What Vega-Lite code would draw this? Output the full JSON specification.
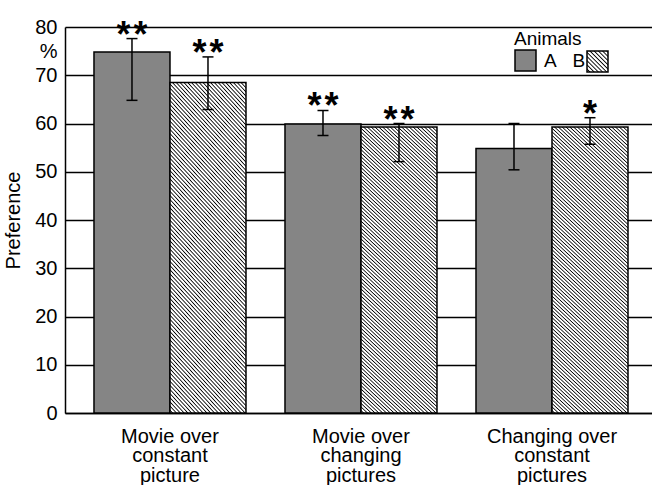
{
  "$schema": "https://vega.github.io/schema/vega-lite/v6.json",
  "width": 587,
  "height": 386,
  "autosize": {"type": "none"},
  "padding": {"left": 65, "top": 27, "right": 0, "bottom": 72},
  "background": "white",
  "config": {"view": {"stroke": null}, "font": "Liberation Sans"},
  "data": {
    "values": [
      {"condition": "Movie over constant picture", "animal": "A", "pref": 74.8, "lo": 64.8, "hi": 77.6, "sig": "*\u200a*"},
      {"condition": "Movie over constant picture", "animal": "B", "pref": 68.5, "lo": 62.9, "hi": 73.8, "sig": "*\u200a*"},
      {"condition": "Movie over changing pictures", "animal": "A", "pref": 59.9, "lo": 57.5, "hi": 62.7, "sig": "*\u200a*"},
      {"condition": "Movie over changing pictures", "animal": "B", "pref": 59.3, "lo": 52.1, "hi": 60.0, "sig": "*\u200a*"},
      {"condition": "Changing over constant pictures", "animal": "A", "pref": 54.8, "lo": 50.4, "hi": 60.0, "sig": ""},
      {"condition": "Changing over constant pictures", "animal": "B", "pref": 59.3, "lo": 55.7, "hi": 61.2, "sig": "*"}
    ]
  },
  "resolve": {"scale": {"shape": "independent"}, "legend": {"shape": "independent"}},
  "encoding": {
    "x": {
      "field": "condition",
      "type": "nominal",
      "sort": null,
      "scale": {"paddingInner": 0.2042, "paddingOuter": 0.1387, "align": 0.547},
      "axis": {
        "title": null,
        "domainColor": "black",
        "domainWidth": 1.5,
        "ticks": false,
        "tickSize": 0,
        "labelAngle": 0,
        "labelPadding": 13,
        "labelBaseline": "top",
        "labelFont": "Liberation Sans",
        "labelFontSize": 20,
        "labelLineHeight": 19.5,
        "labelColor": "black",
        "labelExpr": "datum.value === 'Movie over constant picture' ? ['Movie over', 'constant', 'picture'] : datum.value === 'Movie over changing pictures' ? ['Movie over', 'changing', 'pictures'] : ['Changing over', 'constant', 'pictures']"
      }
    },
    "xOffset": {"field": "animal", "type": "nominal", "scale": {"domain": ["A", "B"], "paddingInner": 0, "paddingOuter": 0}}
  },
  "layer": [
    {
      "mark": {"type": "bar", "stroke": "black", "strokeWidth": 1.5},
      "encoding": {
        "y": {
          "field": "pref",
          "type": "quantitative",
          "title": "Preference",
          "scale": {"domain": [0, 80], "nice": false},
          "axis": {
            "values": [0, 10, 20, 30, 40, 50, 60, 70, 75, 80],
            "labelExpr": "datum.value === 75 ? '%' : datum.label",
            "grid": true,
            "gridColor": "black",
            "gridWidth": 1.5,
            "gridOpacity": {"condition": {"test": "datum.value === 75", "value": 0}, "value": 1},
            "domainColor": "black",
            "domainWidth": 1.5,
            "ticks": false,
            "tickSize": 0,
            "labelPadding": 8,
            "labelFlush": false,
            "labelOverlap": false,
            "labelFont": "Liberation Sans",
            "labelFontSize": 20,
            "labelColor": "black",
            "titleFont": "Liberation Sans",
            "titleFontSize": 20,
            "titleFontWeight": "normal",
            "titleColor": "black",
            "titlePadding": 11
          }
        },
        "fill": {
          "condition": {
            "test": "datum.animal === 'B'",
            "value": {
              "gradient": "linear", "x1": 0, "y1": 1, "x2": 0.293, "y2": -0.176,
              "stops": [
                {"offset":0,"color":"#fff"},{"offset":0.004,"color":"#fff"},{"offset":0.007,"color":"#000"},
                {"offset":0.01,"color":"#fff"},{"offset":0.014,"color":"#fff"},{"offset":0.017,"color":"#000"},
                {"offset":0.02,"color":"#fff"},{"offset":0.024,"color":"#fff"},{"offset":0.027,"color":"#000"},
                {"offset":0.03,"color":"#fff"},{"offset":0.034,"color":"#fff"},{"offset":0.037,"color":"#000"},
                {"offset":0.04,"color":"#fff"},{"offset":0.044,"color":"#fff"},{"offset":0.047,"color":"#000"},
                {"offset":0.05,"color":"#fff"},{"offset":0.054,"color":"#fff"},{"offset":0.057,"color":"#000"},
                {"offset":0.06,"color":"#fff"},{"offset":0.064,"color":"#fff"},{"offset":0.067,"color":"#000"},
                {"offset":0.07,"color":"#fff"},{"offset":0.074,"color":"#fff"},{"offset":0.077,"color":"#000"},
                {"offset":0.08,"color":"#fff"},{"offset":0.084,"color":"#fff"},{"offset":0.087,"color":"#000"},
                {"offset":0.09,"color":"#fff"},{"offset":0.094,"color":"#fff"},{"offset":0.097,"color":"#000"},
                {"offset":0.1,"color":"#fff"},{"offset":0.104,"color":"#fff"},{"offset":0.107,"color":"#000"},
                {"offset":0.11,"color":"#fff"},{"offset":0.114,"color":"#fff"},{"offset":0.117,"color":"#000"},
                {"offset":0.12,"color":"#fff"},{"offset":0.124,"color":"#fff"},{"offset":0.127,"color":"#000"},
                {"offset":0.13,"color":"#fff"},{"offset":0.134,"color":"#fff"},{"offset":0.137,"color":"#000"},
                {"offset":0.14,"color":"#fff"},{"offset":0.144,"color":"#fff"},{"offset":0.147,"color":"#000"},
                {"offset":0.15,"color":"#fff"},{"offset":0.154,"color":"#fff"},{"offset":0.157,"color":"#000"},
                {"offset":0.16,"color":"#fff"},{"offset":0.164,"color":"#fff"},{"offset":0.167,"color":"#000"},
                {"offset":0.17,"color":"#fff"},{"offset":0.174,"color":"#fff"},{"offset":0.177,"color":"#000"},
                {"offset":0.18,"color":"#fff"},{"offset":0.184,"color":"#fff"},{"offset":0.187,"color":"#000"},
                {"offset":0.19,"color":"#fff"},{"offset":0.194,"color":"#fff"},{"offset":0.197,"color":"#000"},
                {"offset":0.2,"color":"#fff"},{"offset":0.204,"color":"#fff"},{"offset":0.207,"color":"#000"},
                {"offset":0.21,"color":"#fff"},{"offset":0.214,"color":"#fff"},{"offset":0.217,"color":"#000"},
                {"offset":0.22,"color":"#fff"},{"offset":0.224,"color":"#fff"},{"offset":0.227,"color":"#000"},
                {"offset":0.23,"color":"#fff"},{"offset":0.234,"color":"#fff"},{"offset":0.237,"color":"#000"},
                {"offset":0.24,"color":"#fff"},{"offset":0.244,"color":"#fff"},{"offset":0.247,"color":"#000"},
                {"offset":0.25,"color":"#fff"},{"offset":0.254,"color":"#fff"},{"offset":0.257,"color":"#000"},
                {"offset":0.26,"color":"#fff"},{"offset":0.264,"color":"#fff"},{"offset":0.267,"color":"#000"},
                {"offset":0.27,"color":"#fff"},{"offset":0.274,"color":"#fff"},{"offset":0.277,"color":"#000"},
                {"offset":0.28,"color":"#fff"},{"offset":0.284,"color":"#fff"},{"offset":0.287,"color":"#000"},
                {"offset":0.29,"color":"#fff"},{"offset":0.294,"color":"#fff"},{"offset":0.297,"color":"#000"},
                {"offset":0.3,"color":"#fff"},{"offset":0.304,"color":"#fff"},{"offset":0.307,"color":"#000"},
                {"offset":0.31,"color":"#fff"},{"offset":0.314,"color":"#fff"},{"offset":0.317,"color":"#000"},
                {"offset":0.32,"color":"#fff"},{"offset":0.324,"color":"#fff"},{"offset":0.327,"color":"#000"},
                {"offset":0.33,"color":"#fff"},{"offset":0.334,"color":"#fff"},{"offset":0.337,"color":"#000"},
                {"offset":0.34,"color":"#fff"},{"offset":0.344,"color":"#fff"},{"offset":0.347,"color":"#000"},
                {"offset":0.35,"color":"#fff"},{"offset":0.354,"color":"#fff"},{"offset":0.357,"color":"#000"},
                {"offset":0.36,"color":"#fff"},{"offset":0.364,"color":"#fff"},{"offset":0.367,"color":"#000"},
                {"offset":0.37,"color":"#fff"},{"offset":0.374,"color":"#fff"},{"offset":0.377,"color":"#000"},
                {"offset":0.38,"color":"#fff"},{"offset":0.384,"color":"#fff"},{"offset":0.387,"color":"#000"},
                {"offset":0.39,"color":"#fff"},{"offset":0.394,"color":"#fff"},{"offset":0.397,"color":"#000"},
                {"offset":0.4,"color":"#fff"},{"offset":0.404,"color":"#fff"},{"offset":0.407,"color":"#000"},
                {"offset":0.41,"color":"#fff"},{"offset":0.414,"color":"#fff"},{"offset":0.417,"color":"#000"},
                {"offset":0.42,"color":"#fff"},{"offset":0.424,"color":"#fff"},{"offset":0.427,"color":"#000"},
                {"offset":0.43,"color":"#fff"},{"offset":0.434,"color":"#fff"},{"offset":0.437,"color":"#000"},
                {"offset":0.44,"color":"#fff"},{"offset":0.444,"color":"#fff"},{"offset":0.447,"color":"#000"},
                {"offset":0.45,"color":"#fff"},{"offset":0.454,"color":"#fff"},{"offset":0.457,"color":"#000"},
                {"offset":0.46,"color":"#fff"},{"offset":0.464,"color":"#fff"},{"offset":0.467,"color":"#000"},
                {"offset":0.47,"color":"#fff"},{"offset":0.474,"color":"#fff"},{"offset":0.477,"color":"#000"},
                {"offset":0.48,"color":"#fff"},{"offset":0.484,"color":"#fff"},{"offset":0.487,"color":"#000"},
                {"offset":0.49,"color":"#fff"},{"offset":0.494,"color":"#fff"},{"offset":0.497,"color":"#000"},
                {"offset":0.5,"color":"#fff"},{"offset":0.504,"color":"#fff"},{"offset":0.507,"color":"#000"},
                {"offset":0.51,"color":"#fff"},{"offset":0.514,"color":"#fff"},{"offset":0.517,"color":"#000"},
                {"offset":0.52,"color":"#fff"},{"offset":0.524,"color":"#fff"},{"offset":0.527,"color":"#000"},
                {"offset":0.53,"color":"#fff"},{"offset":0.534,"color":"#fff"},{"offset":0.537,"color":"#000"},
                {"offset":0.54,"color":"#fff"},{"offset":0.544,"color":"#fff"},{"offset":0.547,"color":"#000"},
                {"offset":0.55,"color":"#fff"},{"offset":0.554,"color":"#fff"},{"offset":0.557,"color":"#000"},
                {"offset":0.56,"color":"#fff"},{"offset":0.564,"color":"#fff"},{"offset":0.567,"color":"#000"},
                {"offset":0.57,"color":"#fff"},{"offset":0.574,"color":"#fff"},{"offset":0.577,"color":"#000"},
                {"offset":0.58,"color":"#fff"},{"offset":0.584,"color":"#fff"},{"offset":0.587,"color":"#000"},
                {"offset":0.59,"color":"#fff"},{"offset":0.594,"color":"#fff"},{"offset":0.597,"color":"#000"},
                {"offset":0.6,"color":"#fff"},{"offset":0.604,"color":"#fff"},{"offset":0.607,"color":"#000"},
                {"offset":0.61,"color":"#fff"},{"offset":0.614,"color":"#fff"},{"offset":0.617,"color":"#000"},
                {"offset":0.62,"color":"#fff"},{"offset":0.624,"color":"#fff"},{"offset":0.627,"color":"#000"},
                {"offset":0.63,"color":"#fff"},{"offset":0.634,"color":"#fff"},{"offset":0.637,"color":"#000"},
                {"offset":0.64,"color":"#fff"},{"offset":0.644,"color":"#fff"},{"offset":0.647,"color":"#000"},
                {"offset":0.65,"color":"#fff"},{"offset":0.654,"color":"#fff"},{"offset":0.657,"color":"#000"},
                {"offset":0.66,"color":"#fff"},{"offset":0.664,"color":"#fff"},{"offset":0.667,"color":"#000"},
                {"offset":0.67,"color":"#fff"},{"offset":0.674,"color":"#fff"},{"offset":0.677,"color":"#000"},
                {"offset":0.68,"color":"#fff"},{"offset":0.684,"color":"#fff"},{"offset":0.687,"color":"#000"},
                {"offset":0.69,"color":"#fff"},{"offset":0.694,"color":"#fff"},{"offset":0.697,"color":"#000"},
                {"offset":0.7,"color":"#fff"},{"offset":0.704,"color":"#fff"},{"offset":0.707,"color":"#000"},
                {"offset":0.71,"color":"#fff"},{"offset":0.714,"color":"#fff"},{"offset":0.717,"color":"#000"},
                {"offset":0.72,"color":"#fff"},{"offset":0.724,"color":"#fff"},{"offset":0.727,"color":"#000"},
                {"offset":0.73,"color":"#fff"},{"offset":0.734,"color":"#fff"},{"offset":0.737,"color":"#000"},
                {"offset":0.74,"color":"#fff"},{"offset":0.744,"color":"#fff"},{"offset":0.747,"color":"#000"},
                {"offset":0.75,"color":"#fff"},{"offset":0.754,"color":"#fff"},{"offset":0.757,"color":"#000"},
                {"offset":0.76,"color":"#fff"},{"offset":0.764,"color":"#fff"},{"offset":0.767,"color":"#000"},
                {"offset":0.77,"color":"#fff"},{"offset":0.774,"color":"#fff"},{"offset":0.777,"color":"#000"},
                {"offset":0.78,"color":"#fff"},{"offset":0.784,"color":"#fff"},{"offset":0.787,"color":"#000"},
                {"offset":0.79,"color":"#fff"},{"offset":0.794,"color":"#fff"},{"offset":0.797,"color":"#000"},
                {"offset":0.8,"color":"#fff"},{"offset":0.804,"color":"#fff"},{"offset":0.807,"color":"#000"},
                {"offset":0.81,"color":"#fff"},{"offset":0.814,"color":"#fff"},{"offset":0.817,"color":"#000"},
                {"offset":0.82,"color":"#fff"},{"offset":0.824,"color":"#fff"},{"offset":0.827,"color":"#000"},
                {"offset":0.83,"color":"#fff"},{"offset":0.834,"color":"#fff"},{"offset":0.837,"color":"#000"},
                {"offset":0.84,"color":"#fff"},{"offset":0.844,"color":"#fff"},{"offset":0.847,"color":"#000"},
                {"offset":0.85,"color":"#fff"},{"offset":0.854,"color":"#fff"},{"offset":0.857,"color":"#000"},
                {"offset":0.86,"color":"#fff"},{"offset":0.864,"color":"#fff"},{"offset":0.867,"color":"#000"},
                {"offset":0.87,"color":"#fff"},{"offset":0.874,"color":"#fff"},{"offset":0.877,"color":"#000"},
                {"offset":0.88,"color":"#fff"},{"offset":0.884,"color":"#fff"},{"offset":0.887,"color":"#000"},
                {"offset":0.89,"color":"#fff"},{"offset":0.894,"color":"#fff"},{"offset":0.897,"color":"#000"},
                {"offset":0.9,"color":"#fff"},{"offset":0.904,"color":"#fff"},{"offset":0.907,"color":"#000"},
                {"offset":0.91,"color":"#fff"},{"offset":0.914,"color":"#fff"},{"offset":0.917,"color":"#000"},
                {"offset":0.92,"color":"#fff"},{"offset":0.924,"color":"#fff"},{"offset":0.927,"color":"#000"},
                {"offset":0.93,"color":"#fff"},{"offset":0.934,"color":"#fff"},{"offset":0.937,"color":"#000"},
                {"offset":0.94,"color":"#fff"},{"offset":0.944,"color":"#fff"},{"offset":0.947,"color":"#000"},
                {"offset":0.95,"color":"#fff"},{"offset":0.954,"color":"#fff"},{"offset":0.957,"color":"#000"},
                {"offset":0.96,"color":"#fff"},{"offset":0.964,"color":"#fff"},{"offset":0.967,"color":"#000"},
                {"offset":0.97,"color":"#fff"},{"offset":0.974,"color":"#fff"},{"offset":0.977,"color":"#000"},
                {"offset":0.98,"color":"#fff"},{"offset":0.984,"color":"#fff"},{"offset":0.987,"color":"#000"},
                {"offset":0.99,"color":"#fff"},{"offset":0.994,"color":"#fff"},{"offset":0.997,"color":"#000"},
                {"offset":1,"color":"#fff"}
              ]
            }
          },
          "value": "#858585"
        }
      }
    },
    {
      "transform": [{"filter": "datum.animal === 'A'"}],
      "mark": {"type": "point", "shape": "square", "filled": true, "fill": "#858585", "stroke": "black", "strokeWidth": 1.5, "opacity": 0},
      "encoding": {
        "y": {"field": "pref", "type": "quantitative", "title": "Preference"},
        "shape": {
          "field": "animal",
          "type": "nominal",
          "scale": {"domain": ["A"], "range": ["square"]},
          "legend": {
            "title": "Animals",
            "orient": "none",
            "legendX": 449,
            "legendY": 3,
            "padding": 0,
            "titleFont": "Liberation Sans",
            "titleFontSize": 19,
            "titleFontWeight": "normal",
            "titleColor": "black",
            "titleAnchor": "start",
            "titlePadding": 0,
            "labelFont": "Liberation Sans",
            "labelFontSize": 19,
            "labelColor": "black",
            "labelOffset": 7,
            "labelExpr": "'A\u00a0\u00a0\u00a0B'",
            "symbolType": "square",
            "symbolSize": 441,
            "symbolOpacity": 1,
            "symbolStrokeWidth": 1.5
          }
        }
      }
    },
    {
      "transform": [{"filter": "datum.animal === 'B'"}],
      "mark": {
        "type": "point",
        "shape": "square",
        "filled": true,
        "stroke": "black",
        "strokeWidth": 1.5,
        "opacity": 0,
        "fill": {
          "gradient": "linear", "x1": 0, "y1": 1, "x2": 1, "y2": 0,
          "stops": [
            {"offset":0,"color":"#fff"},{"offset":0.04,"color":"#fff"},{"offset":0.07,"color":"#000"},
            {"offset":0.1,"color":"#fff"},{"offset":0.14,"color":"#fff"},{"offset":0.17,"color":"#000"},
            {"offset":0.2,"color":"#fff"},{"offset":0.24,"color":"#fff"},{"offset":0.27,"color":"#000"},
            {"offset":0.3,"color":"#fff"},{"offset":0.34,"color":"#fff"},{"offset":0.37,"color":"#000"},
            {"offset":0.4,"color":"#fff"},{"offset":0.44,"color":"#fff"},{"offset":0.47,"color":"#000"},
            {"offset":0.5,"color":"#fff"},{"offset":0.54,"color":"#fff"},{"offset":0.57,"color":"#000"},
            {"offset":0.6,"color":"#fff"},{"offset":0.64,"color":"#fff"},{"offset":0.67,"color":"#000"},
            {"offset":0.7,"color":"#fff"},{"offset":0.74,"color":"#fff"},{"offset":0.77,"color":"#000"},
            {"offset":0.8,"color":"#fff"},{"offset":0.84,"color":"#fff"},{"offset":0.87,"color":"#000"},
            {"offset":0.9,"color":"#fff"},{"offset":0.94,"color":"#fff"},{"offset":0.97,"color":"#000"},
            {"offset":1,"color":"#fff"}
          ]
        }
      },
      "encoding": {
        "y": {"field": "pref", "type": "quantitative", "title": "Preference"},
        "shape": {
          "field": "animal",
          "type": "nominal",
          "scale": {"domain": ["B"], "range": ["square"]},
          "legend": {
            "title": null,
            "orient": "none",
            "legendX": 521,
            "legendY": 23,
            "padding": 0,
            "labelFont": "Liberation Sans",
            "labelFontSize": 19,
            "labelColor": "black",
            "labelExpr": "''",
            "labelOffset": 0,
            "symbolType": "square",
            "symbolSize": 441,
            "symbolOpacity": 1,
            "symbolStrokeWidth": 1.5
          }
        }
      }
    },
    {
      "mark": {"type": "rule", "color": "black", "strokeWidth": 1.5},
      "encoding": {
        "y": {"field": "lo", "type": "quantitative", "title": "Preference"},
        "y2": {"field": "hi"}
      }
    },
    {
      "mark": {"type": "tick", "orient": "horizontal", "size": 11, "thickness": 1.5, "color": "black", "opacity": 1},
      "encoding": {"y": {"field": "lo", "type": "quantitative", "title": "Preference"}}
    },
    {
      "mark": {"type": "tick", "orient": "horizontal", "size": 11, "thickness": 1.5, "color": "black", "opacity": 1},
      "encoding": {"y": {"field": "hi", "type": "quantitative", "title": "Preference"}}
    },
    {
      "mark": {"type": "text", "font": "Liberation Sans", "fontSize": 36, "fontWeight": "bold", "baseline": "alphabetic", "align": "center", "dy": 8, "color": "black"},
      "encoding": {
        "y": {"field": "hi", "type": "quantitative", "title": "Preference"},
        "text": {"field": "sig"}
      }
    }
  ]
}
